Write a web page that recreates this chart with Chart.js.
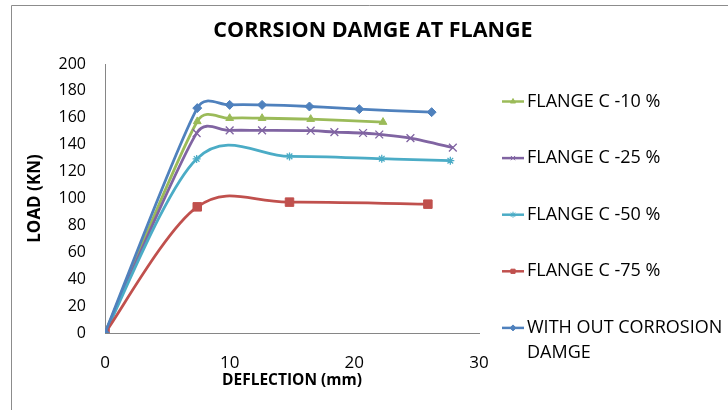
<!DOCTYPE html>
<html>
<head>
<meta charset="utf-8">
<script src="https://cdn.jsdelivr.net/npm/chart.js@4.4.1/dist/chart.umd.min.js"></script>
<style>
  html, body { margin: 0; padding: 0; background: #fff; }
  #loadChart { display: block; }
</style>
</head>
<body>
<canvas id="loadChart" width="728" height="410"></canvas>
<script>
// Load vs deflection, one pair of arrays per specimen
const seriesNames = ['FLANGE C -10 %', 'FLANGE C -25 %', 'FLANGE C -50 %', 'FLANGE C -75 %', ['WITH OUT CORROSION', 'DAMGE']];

const defl10 = [0, 7.4, 10.0, 12.6, 16.5, 22.3];
const load10 = [0, 157.3, 159.7, 159.7, 159.0, 156.8];

const defl25 = [0, 7.35, 10.0, 12.6, 16.5, 18.4, 20.7, 22.0, 24.5, 27.9];
const load25 = [0, 148.6, 150.6, 150.6, 150.4, 149.4, 148.7, 147.6, 144.9, 137.8];

const defl50 = [0, 7.35, 14.8, 22.2, 27.7];
const load50 = [0, 129.4, 131.3, 129.6, 128.1];

const defl75 = [0, 7.4, 14.8, 25.9];
const load75 = [0, 93.8, 97.3, 95.8];

const deflRef = [0, 7.4, 10.0, 12.6, 16.4, 20.4, 26.2];
const loadRef = [0, 167.2, 169.6, 169.6, 168.4, 166.4, 164.2];

const xTicks = [0, 10, 20, 30];
const yTicks = [0, 20, 40, 60, 80, 100, 120, 140, 160, 180, 200];

const pairs = (xs, ys) => xs.map((x, i) => ({ x: x, y: ys[i] }));

const styles = [
    { color: '#9BBB59', point: 'triangle', radius: 4.5 },
    { color: '#8064A2', point: 'crossRot', radius: 5.5 },
    { color: '#4BACC6', point: 'star', radius: 4 },
    { color: '#C0504D', point: 'rect', radius: 6 },
    { color: '#4F81BD', point: 'rectRot', radius: 4.5 }
];
const seriesData = [
    pairs(defl10, load10),
    pairs(defl25, load25),
    pairs(defl50, load50),
    pairs(defl75, load75),
    pairs(deflRef, loadRef)
];

const datasets = seriesData.map((pts, i) => ({
    label: seriesNames[i],
    data: pts,
    borderColor: styles[i].color,
    backgroundColor: styles[i].color,
    pointBorderColor: styles[i].color,
    pointBackgroundColor: styles[i].color,
    pointStyle: styles[i].point,
    pointRadius: styles[i].radius,
    pointBorderWidth: (styles[i].point === 'crossRot' || styles[i].point === 'star') ? 1.3 : 1,
    borderWidth: 2.8,
    tension: 0.4,
    fill: false,
    order: seriesData.length - 1 - i   // later series drawn on top
}));

const FONT = "'Open Sans', 'Noto Sans', sans-serif";

// spreadsheet-style smoothing: tangent (next - prev) / 6, capped at half the segment
const smoothing = {
    id: 'smoothing',
    beforeDatasetsDraw(chart) {
        chart.getSortedVisibleDatasetMetas().forEach(meta => {
            meta.dataset.updateControlPoints(chart.chartArea, meta.iAxis);
            const pts = meta.data;
            pts.forEach((p, i) => {
                const prev = pts[i - 1] || p;
                const next = pts[i + 1] || p;
                const tx = (next.x - prev.x) / 6;
                const ty = (next.y - prev.y) / 6;
                const len = Math.hypot(tx, ty);
                const cap = (q) => {
                    const half = Math.hypot(q.x - p.x, q.y - p.y) / 2;
                    return len > half ? (len ? half / len : 0) : 1;
                };
                const fn = cap(next), fp = cap(prev);
                p.cp2x = p.x + tx * fn;
                p.cp2y = p.y + ty * fn;
                p.cp1x = p.x - tx * fp;
                p.cp1y = p.y - ty * fp;
            });
        });
    }
};

// title, frame and the right-hand legend
const decor = {
    id: 'decor',
    afterDraw(chart) {
        const ctx = chart.ctx;
        ctx.save();
        ctx.strokeStyle = '#8c8c8c';
        ctx.lineWidth = 1;
        ctx.beginPath();
        ctx.moveTo(11.5, 410);
        ctx.lineTo(11.5, 5.5);
        ctx.lineTo(728, 5.5);
        ctx.stroke();

        ctx.fillStyle = '#000';
        ctx.textAlign = 'center';
        ctx.textBaseline = 'middle';
        ctx.font = 'bold 21.5px ' + FONT;
        ctx.fillText('CORRSION DAMGE AT FLANGE', 373, 31);

        ctx.font = '18px ' + FONT;
        ctx.textAlign = 'left';
        chart.data.datasets.forEach((ds, i) => {
            const y = 101.5 + i * 56.6;
            ctx.strokeStyle = ds.borderColor;
            ctx.lineWidth = 2.5;
            ctx.beginPath();
            ctx.moveTo(502, y);
            ctx.lineTo(524, y);
            ctx.stroke();
            if (Chart.helpers && Chart.helpers.drawPoint) {
                ctx.fillStyle = ds.pointBackgroundColor;
                ctx.strokeStyle = ds.pointBorderColor;
                ctx.lineWidth = 1;
                Chart.helpers.drawPoint(ctx, { pointStyle: ds.pointStyle, radius: 3, rotation: 0, borderWidth: 1 }, 513, y);
            }
            ctx.fillStyle = '#000';
            const lines = Array.isArray(ds.label) ? ds.label : [ds.label];
            lines.forEach((t, k) => ctx.fillText(t, 527, y + k * 25));
        });
        ctx.restore();
    }
};

new Chart(document.getElementById('loadChart'), {
    type: 'line',
    data: { datasets: datasets },
    plugins: [smoothing, decor],
    options: {
        responsive: false,
        animation: false,
        layout: { padding: { left: 20, top: 64, right: 249, bottom: 20 } },
        plugins: {
            legend: { display: false },
            title: { display: false },
            tooltip: { enabled: false }
        },
        scales: {
            x: {
                type: 'linear',
                min: 0,
                max: 30,
                afterBuildTicks: (axis) => { axis.ticks = xTicks.map(v => ({ value: v })); },
                afterFit: (axis) => { axis.height = 57; },
                grid: { display: false, drawTicks: false },
                border: { display: true, color: '#868686', width: 1 },
                ticks: { color: '#000', font: { family: FONT, size: 17 }, padding: 20 },
                title: {
                    display: true,
                    text: 'DEFLECTION (mm)',
                    color: '#000',
                    font: { family: FONT, size: 15.5, weight: 'bold' },
                    padding: 0
                }
            },
            y: {
                min: 0,
                max: 200,
                afterBuildTicks: (axis) => { axis.ticks = yTicks.map(v => ({ value: v })); },
                afterFit: (axis) => { axis.width = 85; },
                grid: { display: false, drawTicks: false },
                border: { display: true, color: '#868686', width: 1 },
                ticks: { color: '#000', font: { family: FONT, size: 16 }, padding: 19 },
                title: {
                    display: true,
                    text: 'LOAD (KN)',
                    color: '#000',
                    font: { family: FONT, size: 17, weight: 'bold' },
                    padding: { top: 4.5, bottom: 0 }
                }
            }
        }
    }
});
</script>
</body>
</html>
